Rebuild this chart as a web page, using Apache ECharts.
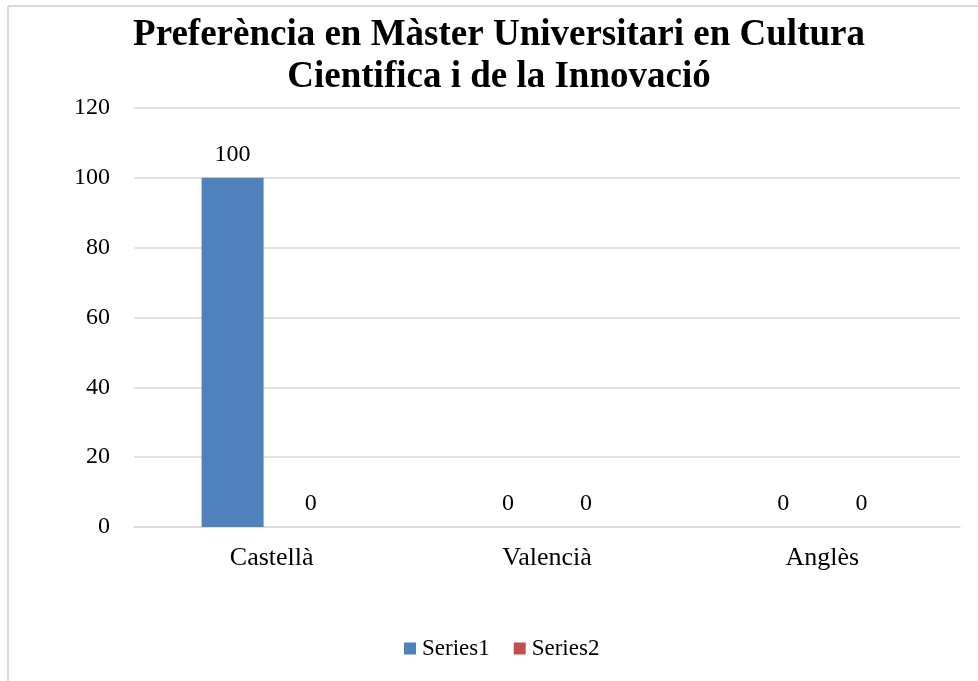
<!DOCTYPE html>
<html>
<head>
<meta charset="utf-8">
<script src="https://cdn.jsdelivr.net/npm/echarts@6/dist/echarts.min.js"></script>
<style>
html, body { margin: 0; padding: 0; background: #fff; }
#main { width: 978px; height: 681px; }
</style>
</head>
<body>
<div id="main"></div>
<script>
var categories = ['Castellà', 'Valencià', 'Anglès'];
var series1 = [100, 0, 0];
var series2 = [0, 0, 0];
var seriesNames = ['Series1', 'Series2'];

var serif = '"Liberation Serif", "DejaVu Serif", serif';
var myChart = echarts.init(document.getElementById('main'));

var option = {
  backgroundColor: '#fff',
  title: {
    text: 'Preferència en Màster Universitari en Cultura\nCientifica i de la Innovació',
    left: 494,
    top: 9,
    textAlign: 'center',
    textStyle: {
      fontFamily: serif,
      fontWeight: 'bold',
      fontSize: 37,
      lineHeight: 42,
      color: '#000'
    }
  },
  graphic: [
    { type: 'line', shape: { x1: 8, y1: 6, x2: 978, y2: 6 }, style: { stroke: '#d9d9d9', lineWidth: 2 } },
    { type: 'line', shape: { x1: 8, y1: 6, x2: 8, y2: 681 }, style: { stroke: '#d9d9d9', lineWidth: 2 } }
  ],
  legend: {
    data: seriesNames,
    left: 399,
    top: 632,
    icon: 'rect',
    itemWidth: 12,
    itemHeight: 12,
    itemGap: 24,
    textStyle: { fontFamily: serif, fontSize: 23, color: '#000', padding: [0, 0, 0, 1] }
  },
  grid: { left: 134, right: 18, top: 108, bottom: 154, containLabel: false },
  xAxis: {
    type: 'category',
    data: categories,
    axisLine: { lineStyle: { color: '#d9d9d9', width: 1.5 } },
    axisTick: { show: false },
    axisLabel: { fontFamily: serif, fontSize: 26, color: '#000', margin: 18 }
  },
  yAxis: {
    type: 'value',
    min: 0,
    max: 120,
    interval: 20,
    axisLine: { show: false },
    axisTick: { show: false },
    axisLabel: { fontFamily: serif, fontSize: 24, color: '#000', margin: 24 },
    splitLine: { lineStyle: { color: '#d9d9d9', width: 1.5 } }
  },
  series: [
    {
      name: seriesNames[0],
      type: 'bar',
      data: series1,
      barWidth: 62,
      barGap: '26%',
      itemStyle: { color: '#4f81bd' },
      label: { show: true, position: 'top', distance: 11, fontFamily: serif, fontSize: 24, color: '#000' }
    },
    {
      name: seriesNames[1],
      type: 'bar',
      data: series2,
      barWidth: 62,
      itemStyle: { color: '#c0504d' },
      label: { show: true, position: 'top', distance: 11, fontFamily: serif, fontSize: 24, color: '#000' }
    }
  ]
};

option && myChart.setOption(option);
</script>
</body>
</html>
